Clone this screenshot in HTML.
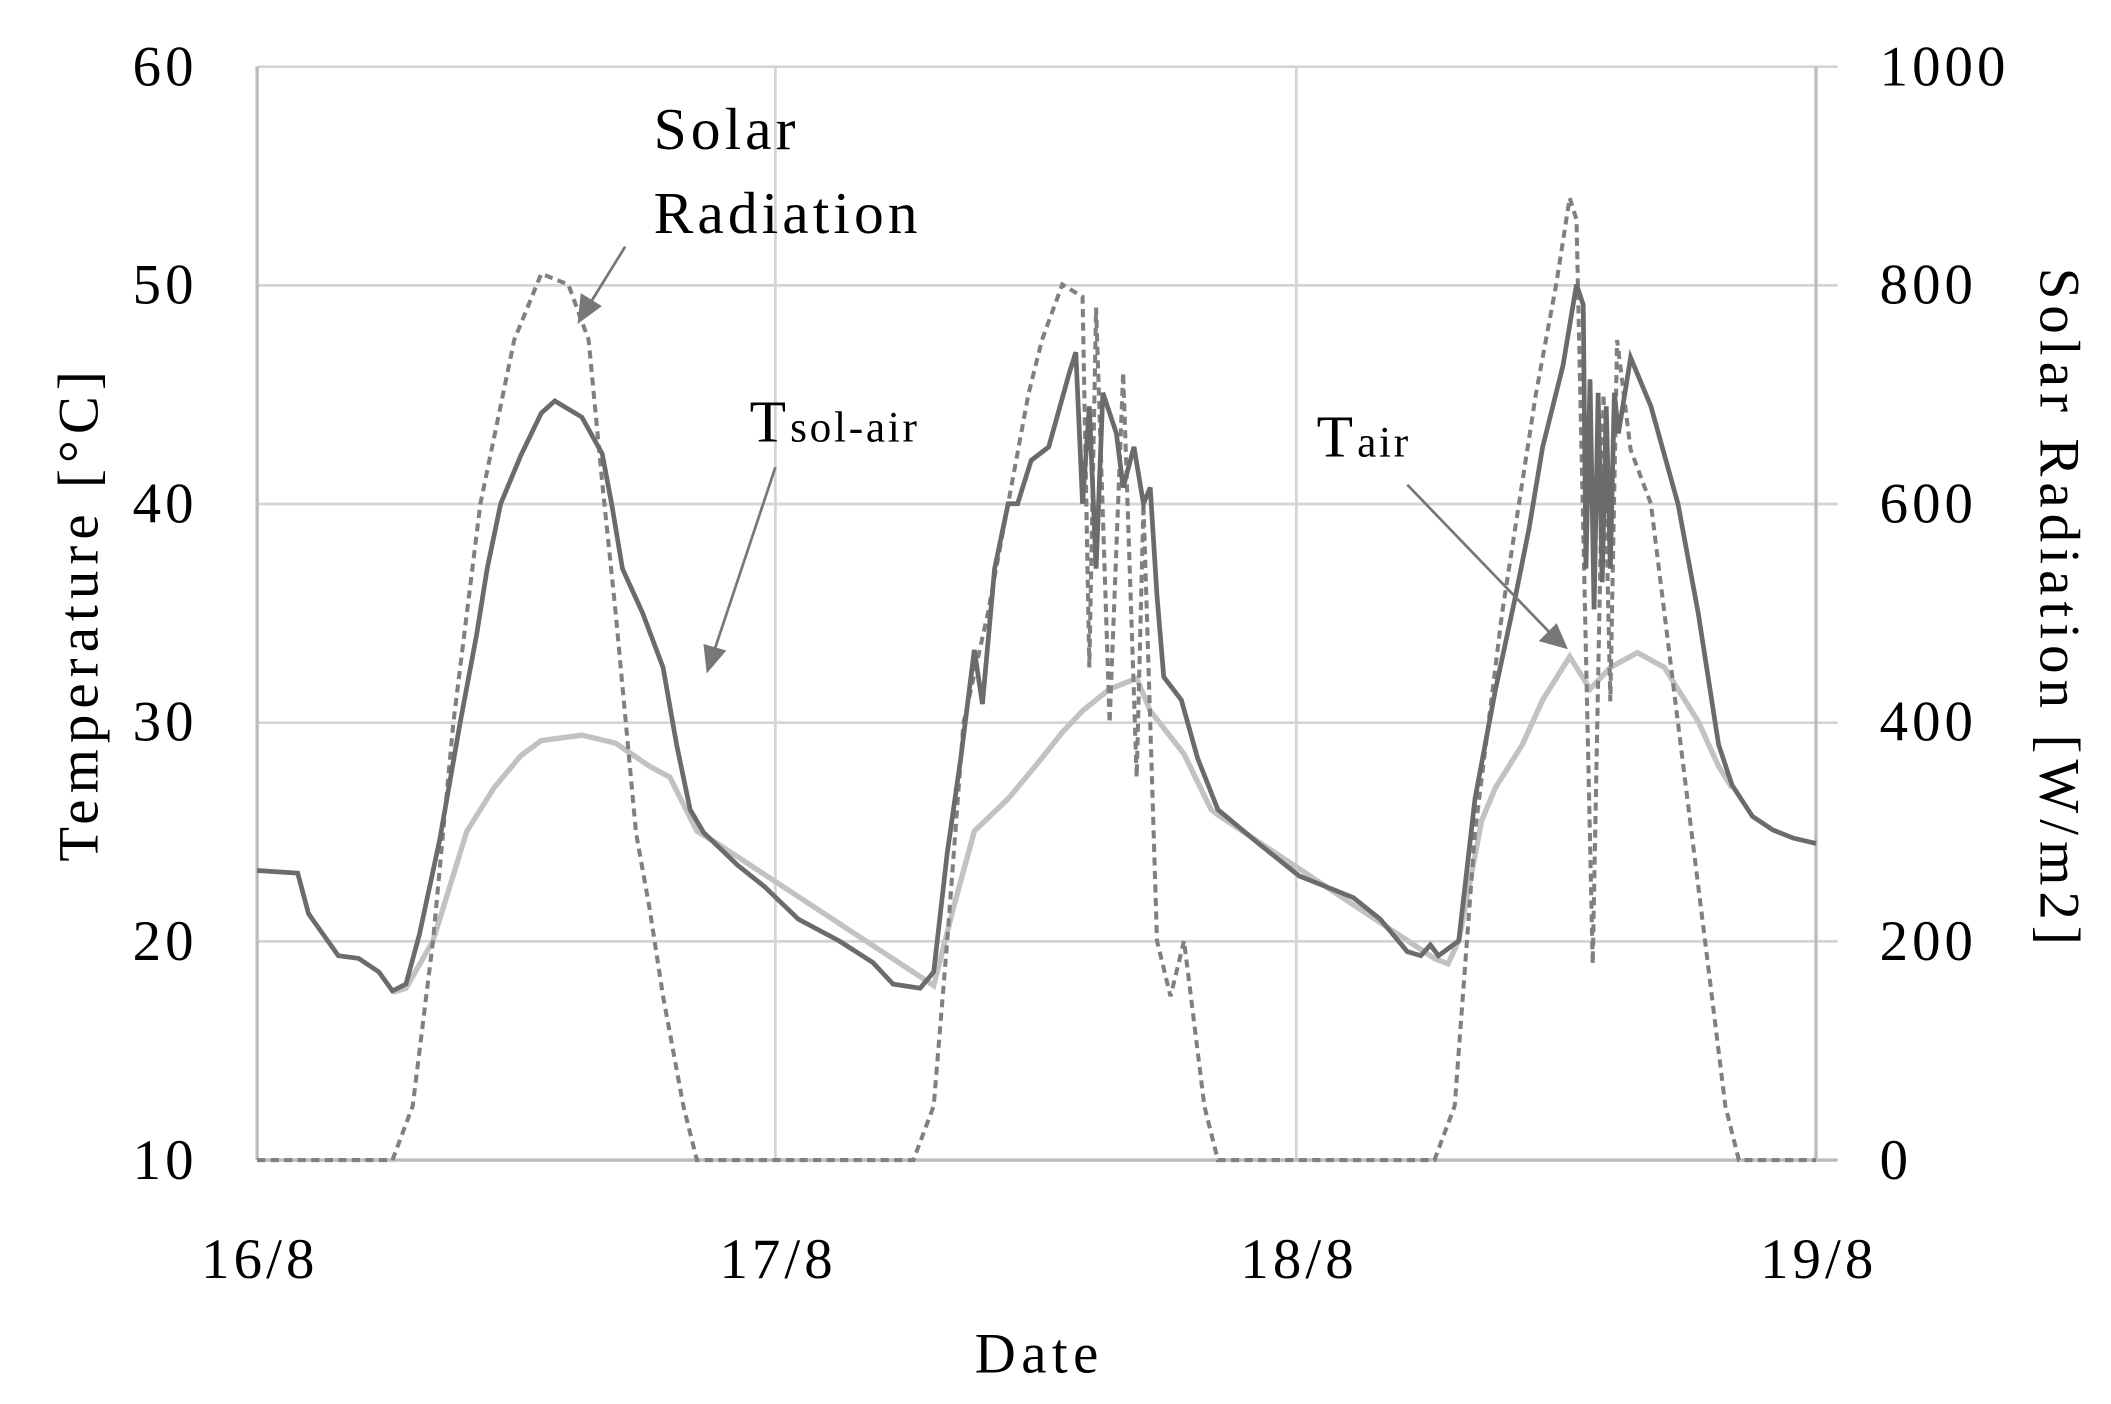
<!DOCTYPE html>
<html><head><meta charset="utf-8"><style>html,body{margin:0;padding:0;background:#fff}svg{display:block}</style></head>
<body>
<svg width="2111" height="1404" viewBox="0 0 1560 1037" xmlns="http://www.w3.org/2000/svg" font-family="'Liberation Serif', serif">
<rect width="1560" height="1037" fill="#fff"/>
<g stroke="#d4d4d4" stroke-width="2">
<line x1="190" y1="49" x2="1358" y2="49"/>
<line x1="190" y1="210.6" x2="1358" y2="210.6"/>
<line x1="190" y1="372.2" x2="1358" y2="372.2"/>
<line x1="190" y1="533.8" x2="1358" y2="533.8"/>
<line x1="190" y1="695.4" x2="1358" y2="695.4"/>
<line x1="573" y1="49" x2="573" y2="857"/>
<line x1="958" y1="49" x2="958" y2="857"/>
</g>
<g stroke="#bcbcbc" stroke-width="2.5">
<line x1="190" y1="49" x2="190" y2="857"/>
<line x1="1342" y1="49" x2="1342" y2="857"/>
<line x1="190" y1="857" x2="1358" y2="857"/>
</g>
<g font-size="42" fill="#000" text-anchor="end" letter-spacing="3">
<text x="146" y="63">60</text><text x="146" y="224">50</text><text x="146" y="386">40</text><text x="146" y="547">30</text><text x="146" y="709">20</text><text x="146" y="871">10</text>
</g>
<g font-size="42" fill="#000" letter-spacing="3">
<text x="1389" y="63">1000</text><text x="1389" y="224">800</text><text x="1389" y="386">600</text><text x="1389" y="547">400</text><text x="1389" y="709">200</text><text x="1389" y="871">0</text>
</g>
<g font-size="42" fill="#000" text-anchor="middle" letter-spacing="3">
<text x="192" y="944">16/8</text><text x="575" y="944">17/8</text><text x="960" y="944">18/8</text><text x="1344" y="944">19/8</text>
<text x="768" y="1014" letter-spacing="4">Date</text>
<text transform="translate(72,453) rotate(-90)" letter-spacing="4.5">Temperature [°C]</text>
<text transform="translate(1508,450) rotate(90)" letter-spacing="4.5">Solar Radiation [W/m2]</text>
</g>
<!-- Tair -->
<polyline fill="none" stroke="#c2c2c2" stroke-width="4" points="290,733 300,730 320,695 345,614 365,582 385,558 400,547 430,543 455,549 480,566 495,574 515,614 530,623 690,728 705,669 720,614 745,590 765,566 785,541 800,525 820,509 840,501 850,525 875,557 895,598 900,602 1060,708 1070,712 1078,695 1095,606 1105,582 1125,550 1140,517 1160,485 1175,509 1190,493 1210,482 1230,493 1255,533 1270,566 1280,582"/>
<!-- Solar radiation -->
<polyline fill="none" stroke="#808080" stroke-width="3" stroke-dasharray="6,4" points="190,857 290,857 305,817 320,695 335,534 355,372 380,251 400,202 420,210 435,251 445,356 455,453 470,615 480,671 490,736 505,817 515,857 675,857 690,817 700,695 712,534 730,453 745,372 760,291 770,251 785,210 800,219 805,493 810,227 820,534 830,275 840,574 845,372 855,695 865,736 875,695 890,817 900,857 1060,857 1075,817 1090,615 1110,453 1135,291 1150,210 1160,146 1165,162 1177,712 1185,291 1190,518 1195,251 1205,332 1220,372 1240,534 1260,695 1275,817 1285,857 1342,857"/>
<!-- Tsol-air -->
<polyline fill="none" stroke="#6b6b6b" stroke-width="3.5" points="190,643 220,645 228,675 250,706 265,708 280,718 290,732 300,727 310,690 325,620 340,534 352,470 360,420 370,372 385,336 400,305 410,296 430,308 445,335 452,372 460,420 475,453 490,493 500,550 510,598 520,615 545,639 565,655 590,679 620,695 645,711 660,727 680,730 690,718 700,630 710,560 720,480 726,520 735,420 745,372 752,372 762,340 775,330 790,276 795,260 800,372 805,300 810,420 815,290 825,320 830,360 838,330 845,372 850,360 855,440 860,500 873,517 885,560 900,598 930,623 960,647 1000,663 1020,679 1040,703 1050,706 1057,698 1063,706 1078,695 1090,590 1105,510 1120,440 1130,390 1140,330 1155,270 1165,210 1170,225 1172,420 1175,280 1178,450 1181,290 1184,430 1187,300 1190,420 1193,290 1196,320 1205,264 1220,300 1240,372 1255,453 1270,550 1280,580 1295,603 1310,613 1325,619 1342,623"/>
<!-- annotations -->
<g font-size="44" fill="#000" letter-spacing="3">
<text x="483" y="110">Solar</text>
<text x="483" y="172">Radiation</text>
<text x="554" y="326">T<tspan font-size="32" letter-spacing="2">sol-air</tspan></text>
<text x="973" y="337">T<tspan font-size="32" letter-spacing="2">air</tspan></text>
</g>
<g stroke="#777" stroke-width="2" fill="#777">
<line x1="462" y1="182" x2="436" y2="224"/>
<polygon points="428,237 430,218 443,226"/>
<line x1="573" y1="345" x2="528" y2="480"/>
<polygon points="523,495 521,477 535,481"/>
<line x1="1040" y1="358" x2="1146" y2="468"/>
<polygon points="1157,478 1139,473 1150,462"/>
</g>
</svg>
</body></html>
